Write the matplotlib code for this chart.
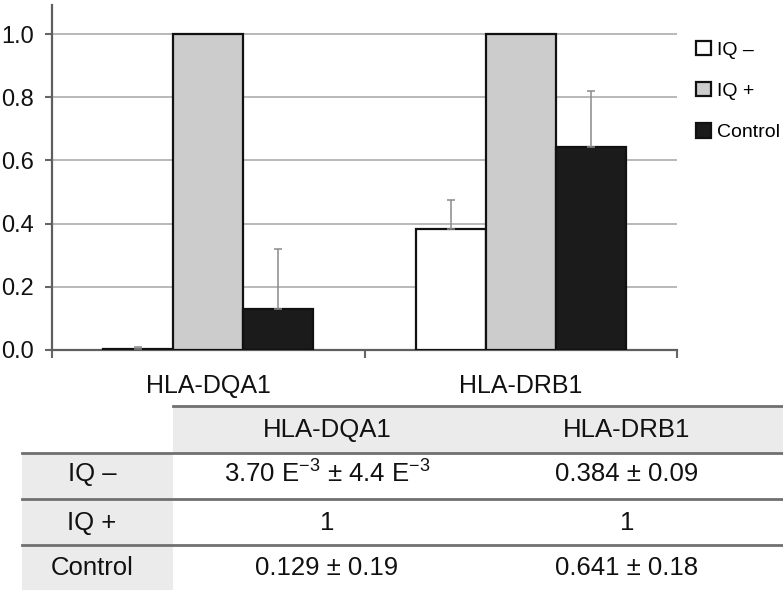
import matplotlib
matplotlib.use("Agg")
import matplotlib.pyplot as plt
from matplotlib.patches import Rectangle
from matplotlib.lines import Line2D
import numpy as np

# ---------------- data ----------------
categories = ["HLA-DQA1", "HLA-DRB1"]
series = ["IQ \u2013", "IQ +", "Control"]
iq_minus_mean = [0.0037, 0.384]
iq_minus_err = [0.0044, 0.09]
iq_plus_mean = [1.0, 1.0]
control_mean = [0.129, 0.641]
control_err = [0.19, 0.18]
yticks = [0.0, 0.2, 0.4, 0.6, 0.8, 1.0]

table_cols = ["HLA-DQA1", "HLA-DRB1"]
table_rows = ["IQ \u2013", "IQ +", "Control"]
table_cells = [
    ["3.70 E$^{\\mathregular{-3}}$ \u00b1 4.4 E$^{\\mathregular{-3}}$", "0.384 \u00b1 0.09"],
    ["1", "1"],
    ["0.129 \u00b1 0.19", "0.641 \u00b1 0.18"],
]

# ---------------- style ----------------
plt.rcParams['font.family'] = ['Liberation Sans', 'DejaVu Sans']
plt.rcParams['mathtext.fontset'] = 'custom'
plt.rcParams['mathtext.rm'] = 'Liberation Sans'
plt.rcParams['mathtext.it'] = 'Liberation Sans:italic'
plt.rcParams['mathtext.bf'] = 'Liberation Sans:bold'

W, H = 783, 593
fig = plt.figure(figsize=(W / 100, H / 100), dpi=100)

def fx(px):
    return px / W

def fy(py):
    return 1 - py / H

ax_l, ax_r, ax_b, ax_t = 52, 677, 350, 5
ax = fig.add_axes([fx(ax_l), fy(ax_b), fx(ax_r) - fx(ax_l), fy(ax_t) - fy(ax_b)])

x = np.arange(len(categories))
bw = 0.224
fills = ["white", "#cccccc", "#1b1b1b"]
err_kw = dict(ecolor="#8a8a8a", elinewidth=1.1, capsize=3, capthick=1.1)

b1 = ax.bar(x - bw, iq_minus_mean, bw, color=fills[0], edgecolor="#111111", linewidth=1.6,
            yerr=[np.zeros(len(x)), iq_minus_err], error_kw=err_kw, label=series[0], zorder=3)
b2 = ax.bar(x, iq_plus_mean, bw, color=fills[1], edgecolor="#111111", linewidth=1.6,
            label=series[1], zorder=3)
b3 = ax.bar(x + bw, control_mean, bw, color=fills[2], edgecolor="#111111", linewidth=1.6,
            yerr=[np.zeros(len(x)), control_err], error_kw=err_kw, label=series[2], zorder=3)

ax.set_xlim(-0.5, len(categories) - 0.5)
ax.set_ylim(0, 1.092)
ax.set_yticks(yticks)
ax.set_yticklabels([f"{v:.1f}" for v in yticks], fontsize=17, color="#111111")
ax.set_xticks(x)
ax.set_xticklabels(categories, fontsize=18, color="#111111")
ax.set_xticks(np.arange(len(categories) + 1) - 0.5, minor=True)
ax.tick_params(axis='x', which='major', length=0, pad=17)
ax.tick_params(axis='x', which='minor', length=6, width=1.5, color="#666666", direction='out')
ax.tick_params(axis='y', length=5, width=1.5, color="#666666", pad=8)

for s in ["top", "right"]:
    ax.spines[s].set_visible(False)
for s in ["left", "bottom"]:
    ax.spines[s].set_color("#5f5f5f")
    ax.spines[s].set_linewidth(1.6)

ax.set_axisbelow(True)
ax.yaxis.grid(True, color="#b3b3b3", linewidth=1.3)

leg = ax.legend(handles=[b1, b2, b3], loc='upper left', bbox_to_anchor=(fx(696), fy(41)),
                bbox_transform=fig.transFigure, frameon=False, fontsize=14,
                handlelength=0.75, handleheight=0.75, handletextpad=0.35,
                labelspacing=1.2, borderaxespad=0, borderpad=0)

# ---------------- table ----------------
shade = "#ebebeb"
rule_c = "#707070"
fig.add_artist(Rectangle((fx(173), fy(453)), fx(783) - fx(173), fy(406) - fy(453),
                         transform=fig.transFigure, facecolor=shade, edgecolor='none', zorder=1))
fig.add_artist(Rectangle((fx(22), fy(590)), fx(173) - fx(22), fy(453) - fy(590),
                         transform=fig.transFigure, facecolor=shade, edgecolor='none', zorder=1))

rules = [(173, 406), (22, 453), (22, 499), (22, 545)]
for x0, yy in rules:
    fig.add_artist(Line2D([fx(x0), fx(783)], [fy(yy), fy(yy)], transform=fig.transFigure,
                          color=rule_c, linewidth=2.0, zorder=2))

col_x = [327, 627]
row_y = [474, 523, 568]
hdr_y = 430
lab_x = 92
tfs = 18.5
for cx, name in zip(col_x, table_cols):
    fig.text(fx(cx), fy(hdr_y), name, ha='center', va='center', fontsize=tfs, color="#111111")
for ry, rname, cells in zip(row_y, table_rows, table_cells):
    fig.text(fx(lab_x), fy(ry), rname, ha='center', va='center', fontsize=tfs, color="#111111")
    for cx, c in zip(col_x, cells):
        fig.text(fx(cx), fy(ry), c, ha='center', va='center', fontsize=tfs, color="#111111")

fig.savefig("out.png", dpi=100)
